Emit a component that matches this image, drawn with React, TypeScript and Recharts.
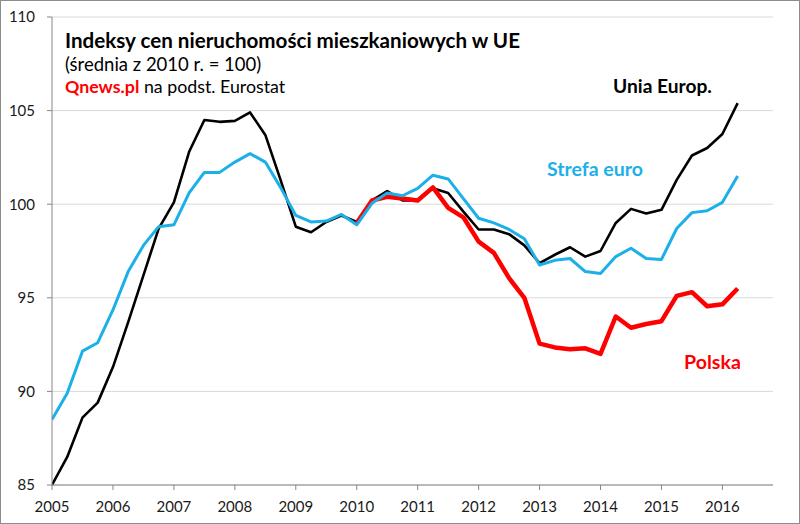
import { LineChart, Line, XAxis, YAxis, CartesianGrid } from "recharts";

// quarterly index, 2010 = 100
const quarters = [
  "2005Q1", "2005Q2", "2005Q3", "2005Q4",
  "2006Q1", "2006Q2", "2006Q3", "2006Q4",
  "2007Q1", "2007Q2", "2007Q3", "2007Q4",
  "2008Q1", "2008Q2", "2008Q3", "2008Q4",
  "2009Q1", "2009Q2", "2009Q3", "2009Q4",
  "2010Q1", "2010Q2", "2010Q3", "2010Q4",
  "2011Q1", "2011Q2", "2011Q3", "2011Q4",
  "2012Q1", "2012Q2", "2012Q3", "2012Q4",
  "2013Q1", "2013Q2", "2013Q3", "2013Q4",
  "2014Q1", "2014Q2", "2014Q3", "2014Q4",
  "2015Q1", "2015Q2", "2015Q3", "2015Q4",
  "2016Q1", "2016Q2",
];

const yearTicks = [2005, 2006, 2007, 2008, 2009, 2010, 2011, 2012, 2013, 2014, 2015, 2016];
const valueTicks = [85, 90, 95, 100, 105, 110];

const uniaEurop = [
  85.0, 86.5, 88.6, 89.4, 91.3, 93.7, 96.2, 98.7,
  100.1, 102.8, 104.5, 104.4, 104.45, 104.9, 103.7, 101.3,
  98.8, 98.5, 99.05, 99.4, 99.05, 100.2, 100.7, 100.2,
  100.2, 100.85, 100.6, 99.6, 98.65, 98.65, 98.4, 97.8,
  96.85, 97.3, 97.7, 97.2, 97.5, 99.0, 99.75, 99.5,
  99.7, 101.3, 102.6, 103.0, 103.75, 105.4,
];

const strefaEuro = [
  88.5, 89.9, 92.15, 92.6, 94.35, 96.4, 97.8, 98.8,
  98.9, 100.6, 101.7, 101.7, 102.25, 102.7, 102.25, 100.9,
  99.4, 99.05, 99.1, 99.45, 98.9, 100.05, 100.6, 100.45,
  100.85, 101.55, 101.35, 100.3, 99.25, 99.0, 98.65, 98.15,
  96.75, 97.0, 97.1, 96.4, 96.3, 97.2, 97.65, 97.1,
  97.05, 98.7, 99.55, 99.65, 100.1, 101.5,
];

// Polska series starts in 2010Q1
const polskaStart = "2010Q1";
const polska = [
  99.0, 100.2, 100.4, 100.3, 100.2, 100.9, 99.8, 99.3,
  98.0, 97.4, 96.05, 95.0, 92.55, 92.35, 92.25, 92.3,
  92.0, 94.0, 93.4, 93.6, 93.75, 95.1, 95.3, 94.55,
  94.65, 95.5,
];

const plOffset = quarters.indexOf(polskaStart);

const chartData = quarters.map((q, i) => ({
  t: Number(q.slice(0, 4)) + (Number(q.slice(5)) - 1) / 4,
  ue: uniaEurop[i],
  ez: strefaEuro[i],
  pl: i >= plOffset ? polska[i - plOffset] : null,
}));

const FONT = "Lato, 'Open Sans', sans-serif";
const tickStyle = { fill: "#1a1a1a", fontSize: 15, fontFamily: FONT };

export default function App() {
  return (
    <div style={{ position: "absolute", left: 0, top: 0, width: 800, height: 524, background: "#fff" }}>
      <LineChart width={800} height={524} data={chartData} margin={{ top: 17, right: 27, bottom: 0, left: 0 }}>
        <CartesianGrid vertical={false} stroke="#d9d9d9" />
        <XAxis
          type="number"
          dataKey="t"
          domain={[2005, 2016.83]}
          ticks={yearTicks}
          interval={0}
          allowDataOverflow
          height={39}
          tickSize={5}
          tickMargin={11}
          stroke="#868686"
          tick={tickStyle}
        />
        <YAxis
          domain={[85, 110]}
          ticks={valueTicks}
          interval={0}
          width={52}
          tickSize={5}
          tickMargin={12}
          stroke="#868686"
          tick={tickStyle}
        />
        <Line type="linear" dataKey="ue" stroke="#000000" strokeWidth={2.6} dot={false} strokeLinejoin="round" isAnimationActive={false} />
        <Line type="linear" dataKey="pl" stroke="#ff0000" strokeWidth={4.5} dot={false} strokeLinejoin="round" isAnimationActive={false} />
        <Line type="linear" dataKey="ez" stroke="#1cb0e8" strokeWidth={3} dot={false} strokeLinejoin="round" isAnimationActive={false} />
      </LineChart>
      <svg width={800} height={524} style={{ position: "absolute", left: 0, top: 0, pointerEvents: "none" }} fontFamily={FONT}>
        <text x={65} y={48} fontSize={20.6} fontWeight="bold" fill="#000">Indeksy cen nieruchomości mieszkaniowych w UE</text>
        <text x={65} y={71} fontSize={18.5} fill="#000">(średnia z 2010 r. = 100)</text>
        <text x={65} y={93} fontSize={17.8} fill="#000">
          <tspan fill="#ff0000" fontWeight="bold">Qnews.pl</tspan> na podst. Eurostat
        </text>
        <text x={613} y={93} fontSize={19.2} fontWeight="bold" fill="#000">Unia Europ.</text>
        <text x={547} y={176} fontSize={19.5} fontWeight="bold" fill="#1cb0e8">Strefa euro</text>
        <text x={684} y={369} fontSize={19.6} fontWeight="bold" fill="#ff0000">Polska</text>
      </svg>
      <div style={{ position: "absolute", left: 0, top: 0, width: 800, height: 524, boxSizing: "border-box", border: "1px solid #8c8c8c", pointerEvents: "none" }} />
    </div>
  );
}
